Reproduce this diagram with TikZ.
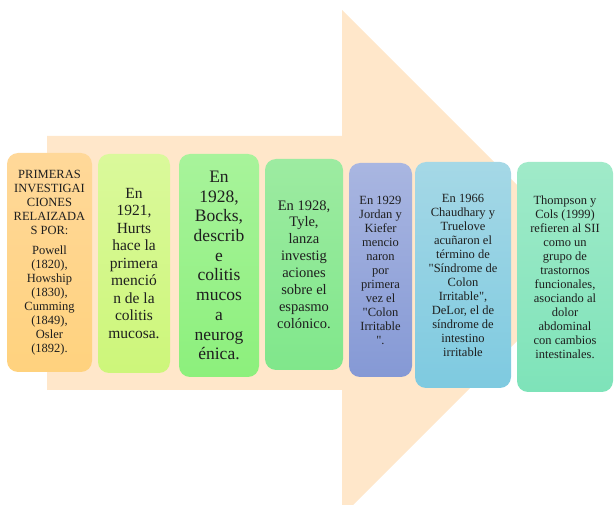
\documentclass[tikz,border=0pt]{standalone}
\usepackage{fontspec}
\setmainfont{Liberation Serif}
\definecolor{flecha}{RGB}{255,231,202}
\definecolor{naranjaA}{RGB}{255,216,153}
\definecolor{naranjaB}{RGB}{255,210,126}
\definecolor{limaA}{RGB}{218,249,155}
\definecolor{limaB}{RGB}{205,246,122}
\definecolor{verdeA}{RGB}{168,243,155}
\definecolor{verdeB}{RGB}{140,240,124}
\definecolor{mentaA}{RGB}{157,235,161}
\definecolor{mentaB}{RGB}{128,231,139}
\definecolor{lilaA}{RGB}{169,182,225}
\definecolor{lilaB}{RGB}{133,153,213}
\definecolor{celesteA}{RGB}{165,216,230}
\definecolor{celesteB}{RGB}{126,202,224}
\definecolor{aguaA}{RGB}{160,234,201}
\definecolor{aguaB}{RGB}{126,227,185}
\tikzset{
    caja/.style={rounded corners=11pt, inner sep=0pt, align=center, text=black!88},
    chica/.style={font=\fontsize{12.5}{14}\selectfont}
}
\begin{document}
\begin{tikzpicture}[x=1pt, y=-1pt]
        \useasboundingbox (0,0) rectangle (614,505);
        \clip (0,0) rectangle (614,505);
        \fill[flecha] (47,136) -- (342,136) -- (342,10) -- (595,263) -- (342,516) -- (342,390) -- (47,390) -- cycle;

        \node[caja, chica, top color=naranjaA, bottom color=naranjaB, minimum width=85pt, minimum height=219pt] (primeras) at (49.5,262.5) {PRIMERAS\\INVESTIGAI\\CIONES\\RELAIZADA\\S POR:\\[6pt] Powell\\(1820),\\Howship\\(1830),\\Cumming\\(1849),\\Osler\\(1892).};
        \node[caja, font=\fontsize{15.5}{17.5}\selectfont, top color=limaA, bottom color=limaB, minimum width=72pt, minimum height=219pt] (hurts) at (134,263.5) {En\\1921,\\Hurts\\hace la\\primera\\menció\\n de la\\colitis\\mucosa.};
        \node[caja, font=\fontsize{17.5}{19.7}\selectfont, top color=verdeA, bottom color=verdeB, minimum width=80pt, minimum height=223pt] (bocks) at (219,265.5) {En\\1928,\\Bocks,\\describ\\e\\colitis\\mucos\\a\\neurog\\énica.};
        \node[caja, font=\fontsize{14.5}{16.9}\selectfont, top color=mentaA, bottom color=mentaB, minimum width=78pt, minimum height=211pt] (tyle) at (304,264.5) {En 1928,\\Tyle,\\lanza\\investig\\aciones\\sobre el\\espasmo\\colónico.};
        \node[caja, chica, top color=lilaA, bottom color=lilaB, minimum width=63pt, minimum height=214pt] (jordan) at (380.5,270) {En 1929\\Jordan y\\Kiefer\\mencio\\naron\\por\\primera\\vez el\\\textquotedbl Colon\\Irritable\\\textquotedbl.};
        \node[caja, chica, top color=celesteA, bottom color=celesteB, minimum width=96pt, minimum height=226pt] (chaudhary) at (463,275) {En 1966\\Chaudhary y\\Truelove\\acuñaron el\\término de\\\textquotedbl Síndrome de\\Colon\\Irritable\textquotedbl,\\DeLor, el de\\síndrome de\\intestino\\irritable};
        \node[caja, chica, top color=aguaA, bottom color=aguaB, minimum width=96pt, minimum height=230pt] (thompson) at (565,277) {Thompson y\\Cols (1999)\\refieren al SII\\como un\\grupo de\\trastornos\\funcionales,\\asociando al\\dolor\\abdominal\\con cambios\\intestinales.};
    \end{tikzpicture}
\end{document}
